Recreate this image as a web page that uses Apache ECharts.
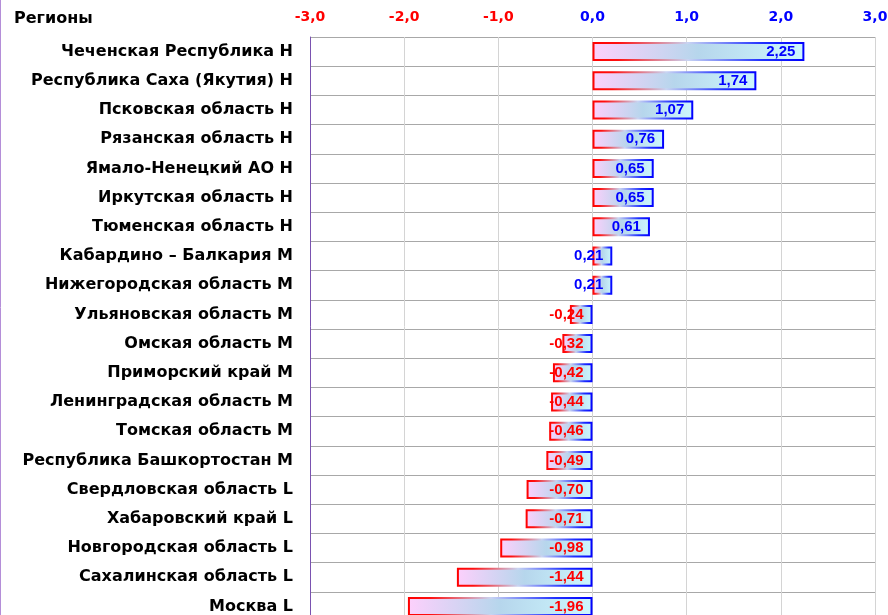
<!DOCTYPE html>
<html>
<head>
<meta charset="utf-8">
<script src="https://cdn.jsdelivr.net/npm/echarts@6/dist/echarts.min.js"></script>
<style>
  html, body { margin: 0; padding: 0; background: #fff; overflow: hidden; }
  #chart { width: 888px; height: 615px; }
</style>
</head>
<body>
<div id="chart"></div>
<script>
const regions = [
  "Чеченская Республика Н",
  "Республика Саха (Якутия) Н",
  "Псковская область Н",
  "Рязанская область Н",
  "Ямало-Ненецкий АО Н",
  "Иркутская область Н",
  "Тюменская область Н",
  "Кабардино – Балкария М",
  "Нижегородская область М",
  "Ульяновская область М",
  "Омская область М",
  "Приморский край М",
  "Ленинградская область М",
  "Томская область М",
  "Республика Башкортостан М",
  "Свердловская область L",
  "Хабаровский край L",
  "Новгородская область L",
  "Сахалинская область L",
  "Москва L"
];
const values = [2.25, 1.74, 1.07, 0.76, 0.65, 0.65, 0.61, 0.21, 0.21, -0.24,
  -0.32, -0.42, -0.44, -0.46, -0.49, -0.70, -0.71, -0.98, -1.44, -1.96];

const fmt = (v) => v.toFixed(2).replace(".", ",");
const wide = "DejaVu Sans, sans-serif";
const narrow = "Liberation Sans, Arial, sans-serif";

const chart = echarts.init(document.getElementById("chart"));

const fillGrad = new echarts.graphic.LinearGradient(0, 0, 1, 0, [
  { offset: 0, color: "#fdd0fc" },
  { offset: 0.5, color: "#b6d6ec" },
  { offset: 1, color: "#cdf7fd" }
]);
const strokeGrad = new echarts.graphic.LinearGradient(0, 0, 1, 0, [
  { offset: 0, color: "#ff0000" },
  { offset: 0.12, color: "#ff1010" },
  { offset: 0.45, color: "#c8d4f2" },
  { offset: 0.8, color: "#2030ff" },
  { offset: 1, color: "#0000ff" }
]);

const barData = values.map((v) => ({
  value: v,
  label: { color: v < 0 ? "#ff0000" : "#0000ff" }
}));

let option = {
  animation: false,
  graphic: [
    {
      type: "line",
      shape: { x1: 0.5, y1: 0, x2: 0.5, y2: 615 },
      style: { stroke: "#b48ed8", lineWidth: 1 }
    },
    {
      type: "text",
      left: 14,
      top: 11,
      style: { text: "Регионы", font: "bold 16px " + wide, fill: "#000" }
    }
  ],
  grid: {
    left: 310,
    top: 37,
    width: 565,
    height: 584,
    containLabel: false,
    outerBoundsMode: "none"
  },
  xAxis: {
    type: "value",
    position: "top",
    min: -3,
    max: 3,
    interval: 1,
    axisLine: { show: false },
    axisTick: { show: false },
    axisLabel: {
      margin: 13,
      fontFamily: wide,
      fontSize: 14,
      fontWeight: "bold",
      formatter: (v) => v.toFixed(1).replace(".", ","),
      color: (v) => (Number(v) < 0 ? "#ff0000" : "#0000ff")
    },
    splitLine: { lineStyle: { color: "#d4d4d4", width: 1 } }
  },
  yAxis: {
    type: "category",
    inverse: true,
    data: regions,
    axisLine: { show: true, onZero: false, lineStyle: { color: "#7a52b0", width: 1 } },
    axisTick: { show: false },
    axisLabel: {
      margin: 17,
      fontFamily: wide,
      fontSize: 16,
      fontWeight: "bold",
      color: "#000"
    },
    splitLine: { show: true, lineStyle: { color: "#a8a8a8", width: 1 } }
  },
  series: [
    {
      type: "bar",
      data: barData,
      barWidth: 19,
      itemStyle: {
        color: fillGrad,
        borderColor: strokeGrad,
        borderWidth: 2
      },
      label: {
        show: true,
        position: "insideRight",
        distance: 9,
        fontFamily: narrow,
        fontSize: 15,
        fontWeight: "bold",
        formatter: (p) => fmt(p.value)
      }
    }
  ]
};
option && chart.setOption(option);
</script>
</body>
</html>
